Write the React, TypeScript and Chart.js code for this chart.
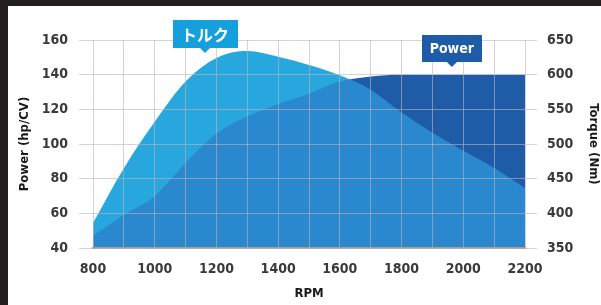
import React, { useEffect, useRef } from 'react';
import { Chart, registerables } from 'chart.js';

Chart.register(...registerables);

// ---- data ----
const rpm = [800, 900, 1000, 1100, 1200, 1300, 1400, 1500, 1600, 1700, 1800, 1900, 2000, 2100, 2200];
const powerHp = [47, 59, 70, 89, 106, 116, 123, 129, 136, 139, 140, 140, 140, 140, 140];
const torqueNm = [386, 465, 532, 590, 624, 634, 626, 614, 599, 578, 545, 516, 490, 465, 436];
const xTickLabels = [800, 1000, 1200, 1400, 1600, 1800, 2000, 2200];
const powerRange = [40, 160];
const torqueRange = [350, 650];
const torqueLabel = 'トルク';
const powerLabel = 'Power';

const LIGHT = '#28a7df';
const MID = '#2a88cf';
const DARK = '#1f5ca8';
const GRID = 'rgba(192,178,182,0.6)';
const TICK_COLOR = '#3a3a3a';
const FONT = "'DejaVu Sans Condensed', 'DejaVu Sans', sans-serif";

const overlapPlugin = {
  id: 'overlap',
  afterDatasetsDraw(chart: any) {
    const tLine = chart.getDatasetMeta(0).dataset;
    const pLine = chart.getDatasetMeta(1).dataset;
    if (!tLine || !pLine) return;
    const { ctx, chartArea } = chart;
    const bottom = chartArea.bottom;
    const areaPath = (line: any) => {
      const pts = line.points;
      ctx.beginPath();
      line.path(ctx);
      ctx.lineTo(pts[pts.length - 1].x, bottom);
      ctx.lineTo(pts[0].x, bottom);
      ctx.closePath();
    };
    ctx.save();
    ctx.beginPath();
    ctx.rect(chartArea.left, chartArea.top, chartArea.right - chartArea.left, chartArea.bottom - chartArea.top);
    ctx.clip();
    areaPath(pLine);
    ctx.clip();
    areaPath(tLine);
    ctx.fillStyle = MID;
    ctx.fill();
    ctx.restore();
  },
};

const calloutPlugin = {
  id: 'callouts',
  afterDraw(chart: any) {
    const { ctx, chartArea, scales } = chart;
    const drawBox = (text: string, at: number, bottomOffset: number, w: number, h: number, color: string, font: string) => {
      const cx = scales.x.getPixelForValue(at);
      const bottom = chartArea.top + bottomOffset;
      const top = bottom - h;
      ctx.save();
      ctx.fillStyle = color;
      ctx.fillRect(Math.round(cx - w / 2), top, w, h);
      ctx.beginPath();
      ctx.moveTo(cx - 5, bottom);
      ctx.lineTo(cx + 5, bottom);
      ctx.lineTo(cx, bottom + 5);
      ctx.closePath();
      ctx.fill();
      ctx.fillStyle = '#ffffff';
      ctx.font = font;
      ctx.textAlign = 'center';
      ctx.textBaseline = 'middle';
      ctx.fillText(text, cx, top + h / 2 + 1);
      ctx.restore();
    };
    drawBox(torqueLabel, 1163, 8, 65, 28, '#14a0dc', "bold 16px 'Noto Sans CJK JP', sans-serif");
    drawBox(powerLabel, 1963, 22, 60, 27, DARK, `bold 14px ${FONT}`);
  },
};

export default function App() {
  const ref = useRef<HTMLCanvasElement>(null);
  useEffect(() => {
    document.body.style.margin = '0';
    document.body.style.overflow = 'hidden';
    const tickFont = { family: FONT, weight: 'bold' as const, size: 14 };
    const titleFont = { family: FONT, weight: 'bold' as const, size: 13 };
    const chart = new Chart(ref.current!, {
      type: 'line',
      data: {
        datasets: [
          {
            label: 'Torque',
            data: rpm.map((r, i) => ({ x: r, y: torqueNm[i] })),
            yAxisID: 'y1',
            borderWidth: 0,
            pointRadius: 0,
            backgroundColor: LIGHT,
            borderColor: LIGHT,
            fill: 'start',
            cubicInterpolationMode: 'monotone',
          },
          {
            label: 'Power',
            data: rpm.map((r, i) => ({ x: r, y: powerHp[i] })),
            yAxisID: 'y',
            borderWidth: 0,
            pointRadius: 0,
            backgroundColor: DARK,
            borderColor: DARK,
            fill: 'start',
            cubicInterpolationMode: 'monotone',
          },
        ],
      },
      options: {
        animation: false,
        responsive: false,
        devicePixelRatio: 1,
        layout: { padding: { top: 34, left: 0, right: 0, bottom: 0 } },
        plugins: { legend: { display: false }, tooltip: { enabled: false } },
        scales: {
          x: {
            type: 'linear',
            min: rpm[0],
            max: rpm[rpm.length - 1],
            ticks: {
              stepSize: 100,
              autoSkip: false,
              maxRotation: 0,
              padding: 13,
              color: TICK_COLOR,
              font: tickFont,
              callback: (v: any) => (xTickLabels.includes(Number(v)) ? String(v) : ''),
            },
            grid: { color: GRID, z: 1, drawTicks: false, lineWidth: 1 },
            border: { display: true, color: '#a59d9d', width: 2, z: 1 },
            title: { display: true, text: 'RPM', color: '#1a1a1a', font: titleFont, padding: { top: 0, bottom: 4 } },
            afterFit: (s: any) => { s.height = 57; },
          },
          y: {
            position: 'left',
            min: powerRange[0],
            max: powerRange[1],
            ticks: { stepSize: 20, padding: 11, color: TICK_COLOR, font: tickFont },
            grid: { color: GRID, z: 1, tickLength: 14, drawTicks: true },
            border: { display: false },
            title: { display: true, text: 'Power (hp/CV)', color: '#1a1a1a', font: titleFont, padding: { top: 9, bottom: 0 } },
            afterFit: (s: any) => { s.width = 85; },
          },
          y1: {
            position: 'right',
            min: torqueRange[0],
            max: torqueRange[1],
            ticks: { stepSize: 50, padding: 10, color: TICK_COLOR, font: tickFont },
            grid: { color: GRID, z: 1, tickLength: 12, drawTicks: true, drawOnChartArea: false },
            border: { display: false },
            title: { display: true, text: 'Torque (Nm)', color: '#1a1a1a', font: titleFont, padding: { top: 0, bottom: 0 } },
            afterFit: (s: any) => { s.width = 76; },
          },
        },
      } as any,
      plugins: [overlapPlugin, calloutPlugin],
    });
    return () => chart.destroy();
  }, []);
  return (
    <div style={{ position: 'relative', width: 601, height: 305, background: '#231f20', overflow: 'hidden' }}>
      <div style={{ position: 'absolute', left: 8, top: 6, width: 593, height: 299, background: '#ffffff' }}>
        <canvas ref={ref} width={593} height={299} style={{ display: 'block', width: 593, height: 299 }} />
      </div>
    </div>
  );
}
